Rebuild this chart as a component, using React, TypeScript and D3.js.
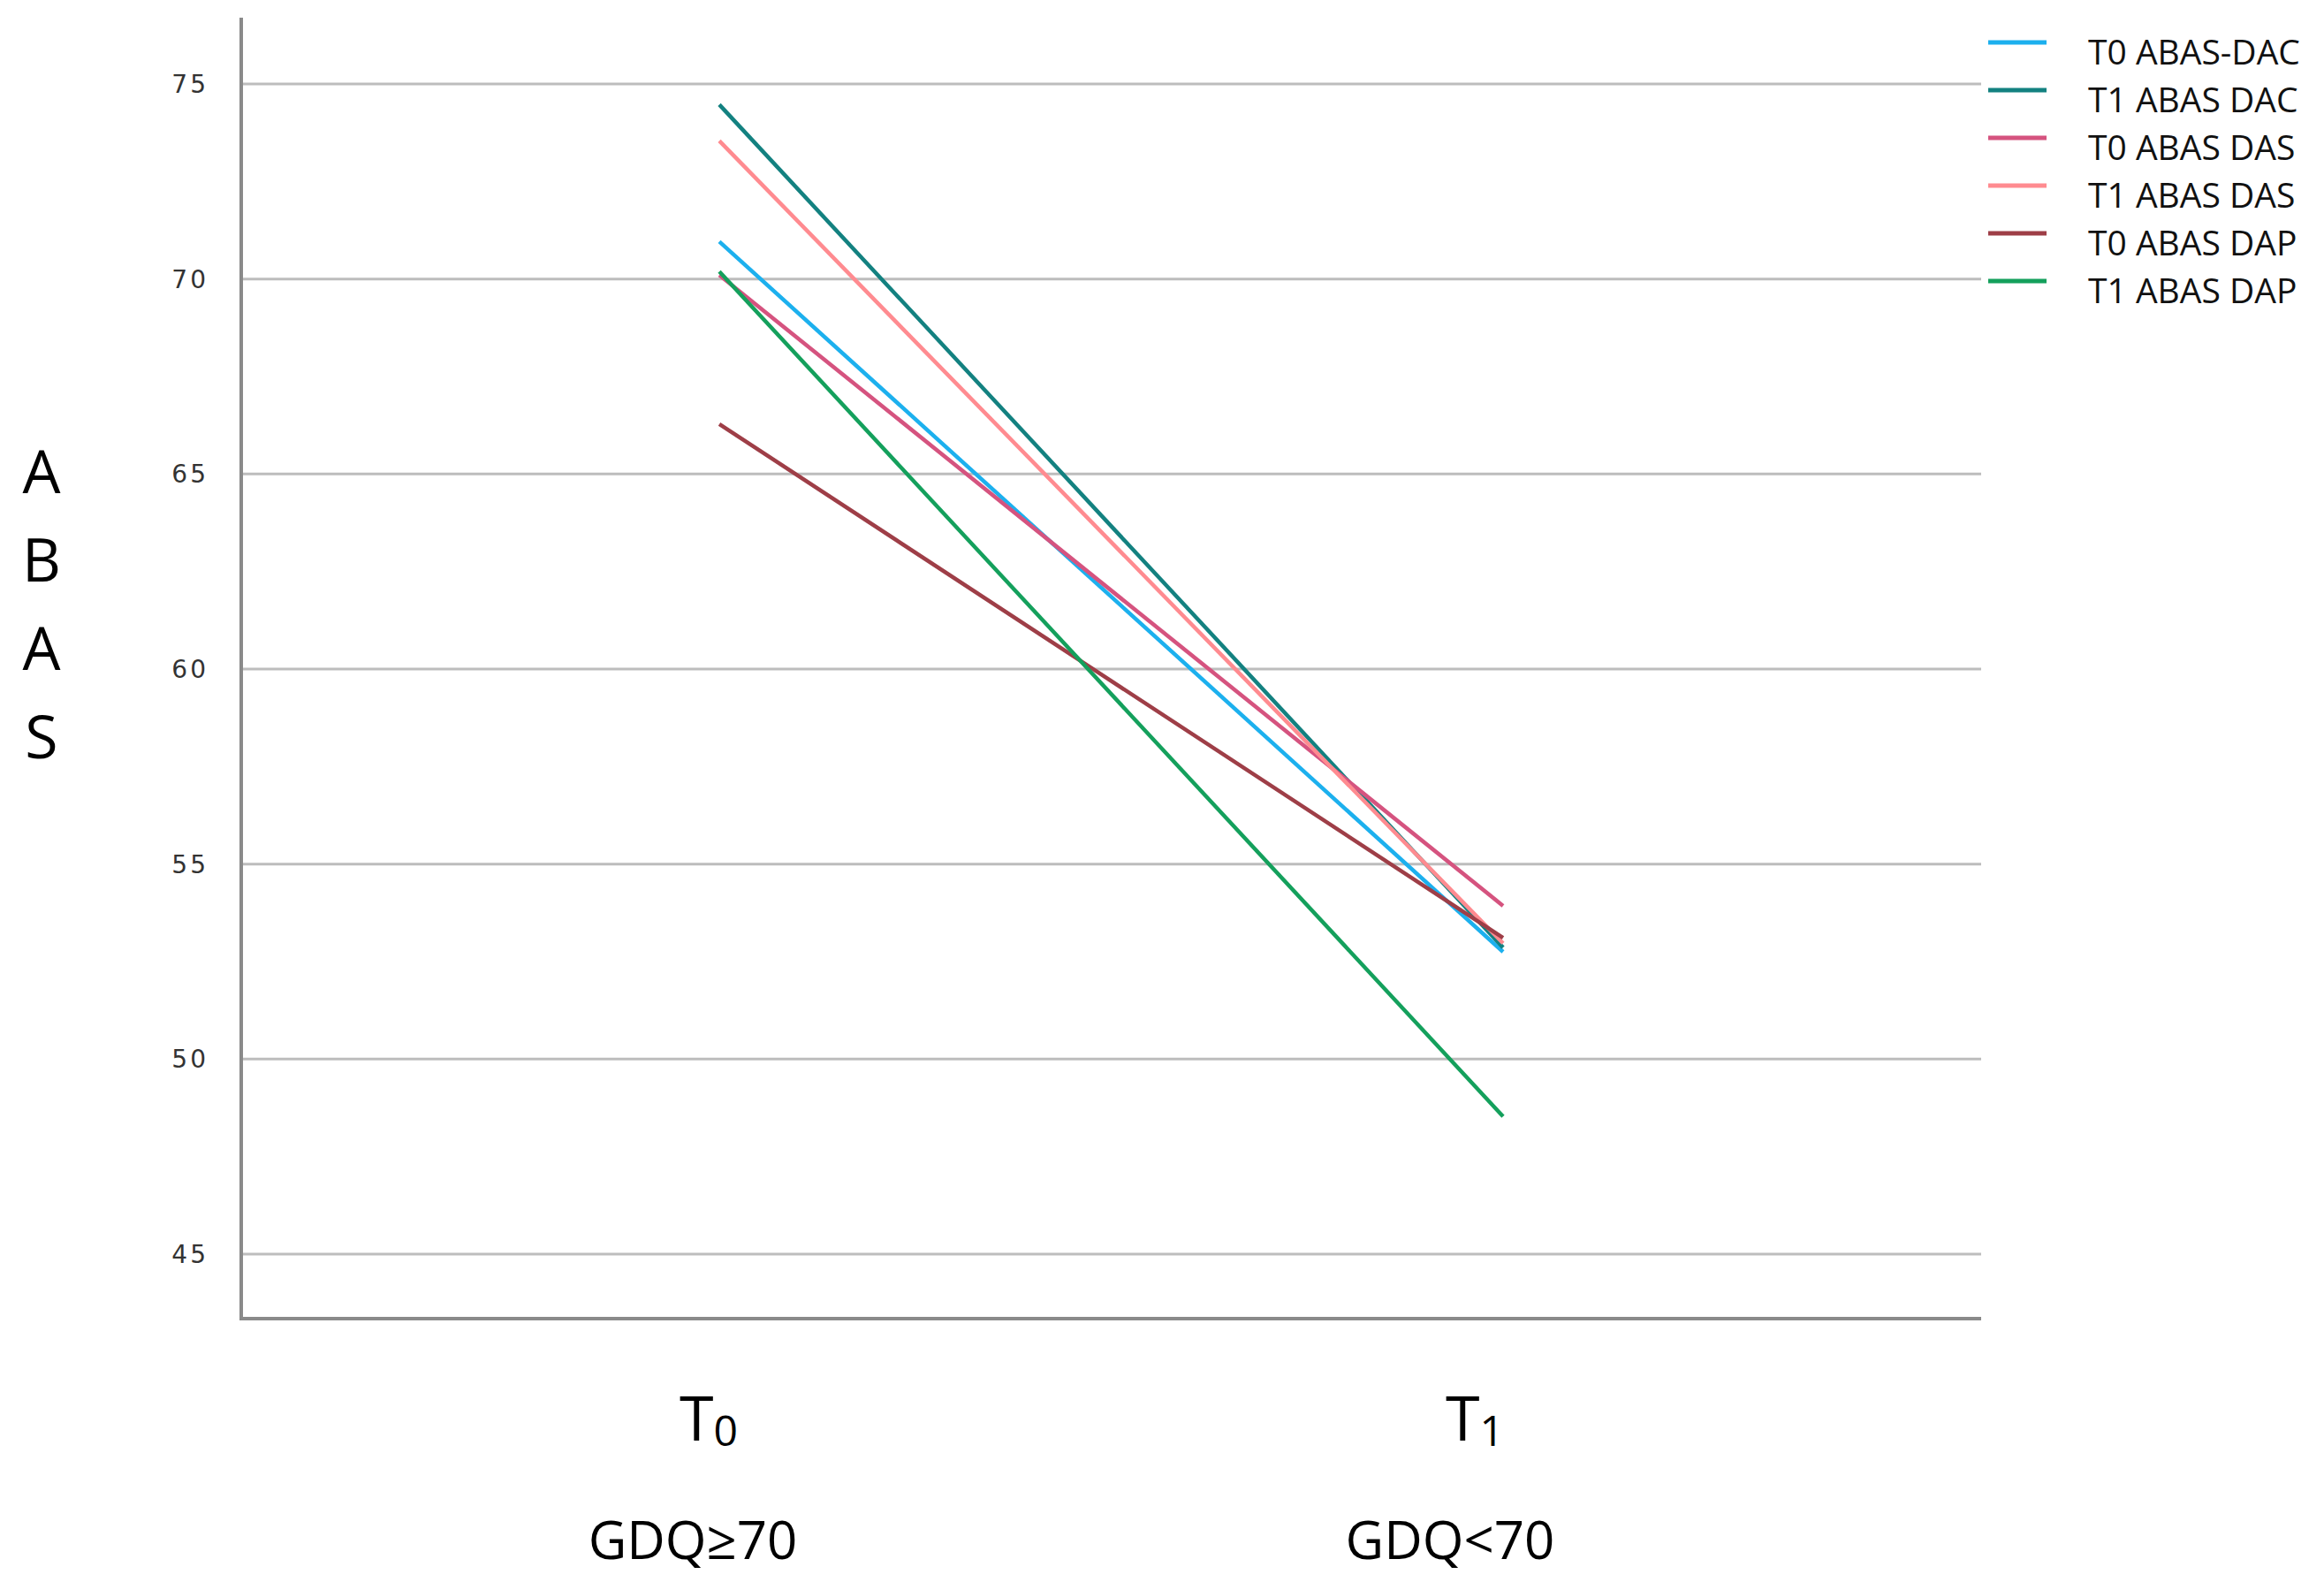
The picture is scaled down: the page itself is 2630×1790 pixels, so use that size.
import React from "react";
import * as d3 from "d3";

const timepoints = ["T0", "T1"];
const seriesNames = [
  "T0 ABAS-DAC",
  "T1 ABAS DAC",
  "T0 ABAS DAS",
  "T1 ABAS DAS",
  "T0 ABAS DAP",
  "T1 ABAS DAP",
];
const t0Values = [70.96, 74.47, 70.1, 73.54, 66.28, 70.19];
const t1Values = [52.75, 52.86, 53.93, 52.97, 53.11, 48.53];
const seriesColors = ["#1cb0ee", "#138180", "#d5537f", "#ff8b90", "#9e3e47", "#14a05c"];
const yTicks = [45, 50, 55, 60, 65, 70, 75];
const xSubs = ["0", "1"];
const xSubLabels = ["GDQ\u226570", "GDQ<70"];
const yLabelLetters = ["A", "B", "A", "S"];

const W = 2630;
const H = 1790;
const plotLeft = 273;
const plotRight = 2242;
const plotTop = 20;
const plotBottom = 1492;
const mainLabelShift = [-12, -32];
const subLabelShift = [-30, -60];

export default function App() {
  const x = d3.scalePoint<string>().domain(timepoints).range([plotLeft, plotRight]).padding(0.61);
  const y = d3.scaleLinear().domain([45, 75]).range([1419, 95]);
  const line = d3
    .line<[string, number]>()
    .x((d) => x(d[0]) as number)
    .y((d) => y(d[1]));

  const data = seriesNames.map((name, i) => ({
    name,
    color: seriesColors[i],
    pts: [
      [timepoints[0], t0Values[i]],
      [timepoints[1], t1Values[i]],
    ] as [string, number][],
  }));

  const legendX = 2250;
  const legendY0 = 48;
  const legendStep = 54;
  const sans = "'Open Sans', 'Noto Sans', sans-serif";

  return (
    <svg
      width={W}
      height={H}
      style={{ position: "absolute", left: 0, top: 0, background: "#fff" }}
      xmlns="http://www.w3.org/2000/svg"
    >
      <rect x={0} y={0} width={W} height={H} fill="#fff" />
      {yTicks.map((t) => (
        <line key={t} x1={plotLeft} x2={plotRight} y1={y(t)} y2={y(t)} stroke="#bdbdbd" strokeWidth={3} />
      ))}
      <line x1={plotLeft} x2={plotLeft} y1={plotTop} y2={plotBottom} stroke="#8a8a8a" strokeWidth={4} />
      <line x1={plotLeft - 2} x2={plotRight} y1={plotBottom} y2={plotBottom} stroke="#8a8a8a" strokeWidth={4} />
      {yTicks.map((t) => (
        <text
          key={"l" + t}
          x={236}
          y={y(t)}
          dy="0.36em"
          textAnchor="end"
          fontFamily="'DejaVu Sans', Verdana, sans-serif"
          fontSize={28}
          letterSpacing={3}
          fill="#333"
        >
          {t}
        </text>
      ))}
      {data.map((s) => (
        <path key={s.name} d={line(s.pts) || ""} fill="none" stroke={s.color} strokeWidth={4.5} />
      ))}
      {data.map((s, i) => (
        <g key={"lg" + s.name}>
          <line
            x1={legendX}
            x2={legendX + 66}
            y1={legendY0 + i * legendStep}
            y2={legendY0 + i * legendStep}
            stroke={s.color}
            strokeWidth={5}
          />
          <text
            x={2363}
            y={legendY0 + i * legendStep + 25}
            fontFamily={sans}
            fontSize={39}
            fill="#111"
          >
            {s.name}
          </text>
        </g>
      ))}
      {yLabelLetters.map((c, i) => (
        <text
          key={"y" + i}
          x={47}
          y={558 + i * 100}
          textAnchor="middle"
          fontFamily={sans}
          fontSize={68}
          fill="#000"
        >
          {c}
        </text>
      ))}
      {timepoints.map((tp, i) => (
        <g key={"x" + tp}>
          <text
            x={(x(tp) as number) + mainLabelShift[i]}
            y={1630}
            textAnchor="middle"
            fontFamily={sans}
            fontSize={70}
            fill="#000"
          >
            T
            <tspan fontSize={48} dy={6}>
              {xSubs[i]}
            </tspan>
          </text>
          <text
            x={(x(tp) as number) + subLabelShift[i]}
            y={1764}
            textAnchor="middle"
            fontFamily={sans}
            fontSize={60}
            fill="#000"
          >
            {xSubLabels[i]}
          </text>
        </g>
      ))}
    </svg>
  );
}
